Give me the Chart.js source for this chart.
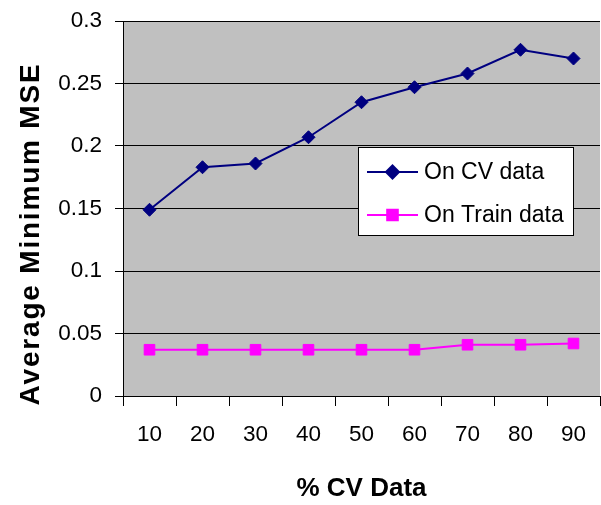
<!DOCTYPE html>
<html>
<head>
<meta charset="utf-8">
<script src="https://cdn.jsdelivr.net/npm/chart.js@4/dist/chart.umd.min.js"></script>
<style>
  body { margin: 0; background: #fff; }
  canvas { display: block; }
</style>
</head>
<body>
<canvas id="mseChart" width="601" height="505"></canvas>
<script>
// Data
const cvPercent = ['10', '20', '30', '40', '50', '60', '70', '80', '90'];
const onCvData = [0.149, 0.183, 0.186, 0.207, 0.235, 0.247, 0.258, 0.277, 0.270];
const onTrainData = [0.037, 0.037, 0.037, 0.037, 0.037, 0.037, 0.041, 0.041, 0.042];
const yTicks = [0, 0.05, 0.1, 0.15, 0.2, 0.25, 0.3];

const FONT = '"Liberation Sans", Arial, sans-serif';

// Gray plot area
const plotBackground = {
    id: 'plotBackground',
    beforeDraw(chart) {
        const { ctx, chartArea: a } = chart;
        ctx.save();
        ctx.fillStyle = '#C0C0C0';
        ctx.fillRect(a.left, a.top, a.right - a.left, a.bottom - a.top);
        ctx.restore();
    }
};

// Y axis title with the wide letter spacing of the original
const yTitle = {
    id: 'yTitle',
    afterDraw(chart) {
        const ctx = chart.ctx;
        ctx.save();
        ctx.font = 'bold 28px ' + FONT;
        ctx.fillStyle = '#000';
        ctx.letterSpacing = '1.8px';
        ctx.translate(39, 234);
        ctx.rotate(-Math.PI / 2);
        ctx.textAlign = 'center';
        ctx.textBaseline = 'alphabetic';
        ctx.fillText('Average Minimum MSE', 0, 0);
        ctx.restore();
    }
};

// Boxed legend inside the plot area
const boxLegend = {
    id: 'boxLegend',
    afterDraw(chart) {
        const ctx = chart.ctx;
        const box = { x: 358.5, y: 147.5, w: 215, h: 88 };
        ctx.save();
        ctx.fillStyle = '#fff';
        ctx.strokeStyle = '#000';
        ctx.lineWidth = 1;
        ctx.fillRect(box.x, box.y, box.w, box.h);
        ctx.strokeRect(box.x, box.y, box.w, box.h);
        const rows = [172, 215];
        chart.data.datasets.forEach((ds, i) => {
            const y = rows[i];
            ctx.strokeStyle = ds.borderColor;
            ctx.lineWidth = 2;
            ctx.beginPath();
            ctx.moveTo(367, y);
            ctx.lineTo(418, y);
            ctx.stroke();
            Chart.helpers.drawPoint(ctx, {
                pointStyle: ds.pointStyle,
                radius: ds.pointRadius,
                borderWidth: 1
            }, 392.5, y);
            ctx.fillStyle = ds.pointBackgroundColor;
            ctx.strokeStyle = ds.pointBorderColor;
            ctx.fill();
            ctx.fillStyle = '#000';
            ctx.font = '23px ' + FONT;
            ctx.textBaseline = 'alphabetic';
            ctx.textAlign = 'left';
            ctx.fillText(ds.label, 424, y + 7);
        });
        ctx.restore();
    }
};

// drop the label overflow padding so the plot area sits where the layout says
function noOverflow(scale) {
    scale.paddingTop = 0;
    scale.paddingBottom = 0;
    scale.paddingLeft = 0;
    scale.paddingRight = 0;
}

const ctx = document.getElementById('mseChart').getContext('2d');
const mseChart = new Chart(ctx, {
    type: 'line',
    data: {
        labels: cvPercent,
        datasets: [{
            label: 'On CV data',
            data: onCvData,
            borderColor: '#000080',
            borderWidth: 2,
            pointStyle: 'rectRot',
            pointRadius: 6.5,
            pointBackgroundColor: '#000080',
            pointBorderColor: '#000080',
            pointBorderWidth: 1,
            tension: 0
        }, {
            label: 'On Train data',
            data: onTrainData,
            borderColor: '#FF00FF',
            borderWidth: 2,
            pointStyle: 'rect',
            pointRadius: 7.5,
            pointBackgroundColor: '#FF00FF',
            pointBorderColor: '#FF00FF',
            pointBorderWidth: 1,
            tension: 0
        }]
    },
    options: {
        responsive: false,
        animation: false,
        layout: {
            autoPadding: false,
            padding: { top: 21, right: 1, bottom: 0, left: 0 }
        },
        plugins: {
            legend: { display: false },
            tooltip: { enabled: false }
        },
        scales: {
            x: {
                offset: true,
                grid: {
                    offset: true,
                    drawOnChartArea: false,
                    drawTicks: true,
                    tickLength: 10,
                    color: '#000'
                },
                border: { color: '#000', width: 1 },
                ticks: {
                    color: '#000',
                    font: { family: FONT, size: 22.5 },
                    padding: 15,
                    maxRotation: 0
                },
                title: {
                    display: true,
                    text: '% CV Data',
                    color: '#000',
                    font: { family: FONT, size: 26, weight: 'bold' },
                    padding: { top: 0, bottom: 1 }
                },
                afterFit(scale) {
                    scale.height = 109;
                    noOverflow(scale);
                }
            },
            y: {
                min: 0,
                max: 0.3,
                afterBuildTicks(scale) {
                    scale.ticks = yTicks.map(v => ({ value: v }));
                },
                grid: {
                    color: '#000',
                    lineWidth: 1,
                    tickLength: 8
                },
                border: { color: '#000', width: 1 },
                ticks: {
                    color: '#000',
                    font: { family: FONT, size: 22.5 },
                    padding: 13,
                    callback: v => String(+v.toFixed(2))
                },
                afterFit(scale) {
                    scale.width = 123;
                    noOverflow(scale);
                }
            }
        }
    },
    plugins: [plotBackground, yTitle, boxLegend]
});
</script>
</body>
</html>
